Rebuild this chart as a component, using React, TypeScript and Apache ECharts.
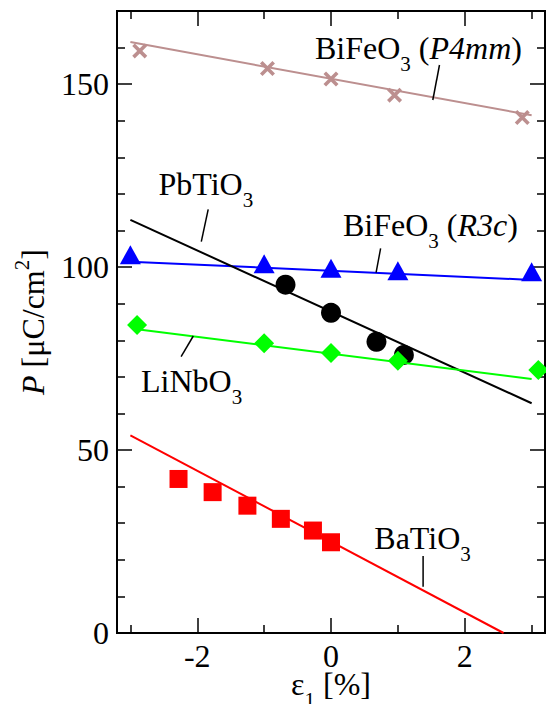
import React, { useEffect, useRef } from 'react';
import * as echarts from 'echarts';

const FONT = "'Liberation Serif', 'Times New Roman', Times, serif";

// axis ticks
const xRange = [-3.2, 3.2];
const yRange = [0, 170];
const xMajorTicks = [-2, 0, 2];
const xMinorTicks = [-3, -1, 1, 3];
const yMajorTicks = [0, 50, 100, 150];
const yMinorTicks = [10, 20, 30, 40, 60, 70, 80, 90, 110, 120, 130, 140, 160];

// BiFeO3 (P4mm)
const strainP4mm = [-2.86, -0.95, 0, 0.95, 2.86];
const polP4mm = [159.1, 154.3, 151.4, 147.0, 140.9];
const fitStrainP4mm = [-3, 3];
const fitPolP4mm = [161.5, 141.5];

// BiFeO3 (R3c)
const strainR3c = [-3, -1, 0, 1, 3];
const polR3c = [103.4, 100.9, 99.7, 99.0, 98.7];
const fitStrainR3c = [-3, 3];
const fitPolR3c = [101.5, 96.5];

// PbTiO3
const strainPTO = [-0.68, 0, 0.68, 1.09];
const polPTO = [95.2, 87.5, 79.6, 76.0];
const fitStrainPTO = [-3, 3];
const fitPolPTO = [112.9, 62.8];

// LiNbO3
const strainLNO = [-2.9, -1, 0, 1, 3.1];
const polLNO = [84.2, 79.2, 76.5, 74.4, 71.9];
const fitStrainLNO = [-2.9, 3.0];
const fitPolLNO = [83.0, 69.4];

// BaTiO3
const strainBTO = [-2.28, -1.77, -1.25, -0.75, -0.27, 0];
const polBTO = [42.1, 38.5, 34.8, 31.2, 28.0, 24.8];
const fitStrainBTO = [-3, 2.58];
const fitPolBTO = [54.0, 0];

const zip = (a: number[], b: number[]) => a.map((v, i) => [v, b[i]]);

const CROSS = 'path://M0,1.7L1.7,0L10,8.3L8.3,10ZM8.3,0L10,1.7L1.7,10L0,8.3Z';

const MAIN = 32;
const SMALL = 21;
const LH = 32;
const P_MAIN = 0;
const BASE_OFF = P_MAIN + MAIN / 2 + 0.3375 * MAIN; // baseline offset from top
const P_SUB = BASE_OFF + 12.4 - 0.3375 * SMALL - SMALL / 2;
const P_SUP = BASE_OFF - 15 - 0.3375 * SMALL - SMALL / 2;

const rich = {
  n: { fontSize: MAIN, fontFamily: FONT, lineHeight: LH, padding: [P_MAIN, 0, 0, 0], verticalAlign: 'top', fill: '#000' },
  i: { fontSize: MAIN, fontFamily: FONT, fontStyle: 'italic', lineHeight: LH, padding: [P_MAIN, 0, 0, 0], verticalAlign: 'top', fill: '#000' },
  sub: { fontSize: SMALL, fontFamily: FONT, lineHeight: LH, padding: [P_SUB, 0, 0, 0], verticalAlign: 'top', fill: '#000' },
  sup: { fontSize: SMALL, fontFamily: FONT, lineHeight: LH, padding: [P_SUP, 0, 0, 0], verticalAlign: 'top', fill: '#000' },
};

function richText(x: number, baseline: number, text: string, align = 'left', rotation = 0) {
  return {
    type: 'text',
    x,
    y: baseline,
    rotation,
    z: 100,
    style: {
      text,
      rich,
      x: 0,
      y: -BASE_OFF,
      align,
      textAlign: align,
      verticalAlign: 'top',
      textVerticalAlign: 'top',
      fill: '#000',
    },
  };
}

function leader(x1: number, y1: number, x2: number, y2: number) {
  return {
    type: 'line',
    z: 100,
    shape: { x1, y1, x2, y2 },
    style: { stroke: '#000', lineWidth: 1.5 },
  };
}

function xAxis(position: string, ticks: number[], len: number, labels: boolean) {
  return {
    type: 'value',
    position,
    min: xRange[0],
    max: xRange[1],
    axisLine: { show: false, onZero: false },
    splitLine: { show: false },
    axisTick: { show: true, inside: true, length: len, customValues: ticks, lineStyle: { color: '#000', width: 1.5 } },
    axisLabel: {
      show: labels,
      customValues: ticks,
      fontSize: MAIN,
      fontFamily: FONT,
      color: '#000',
      margin: 7,
    },
  };
}

function yAxis(position: string, ticks: number[], len: number, labels: boolean) {
  return {
    type: 'value',
    position,
    min: yRange[0],
    max: yRange[1],
    axisLine: { show: false, onZero: false },
    splitLine: { show: false },
    axisTick: { show: true, inside: true, length: len, customValues: ticks, lineStyle: { color: '#000', width: 1.5 } },
    axisLabel: {
      show: labels,
      customValues: ticks,
      fontSize: MAIN,
      fontFamily: FONT,
      color: '#000',
      margin: 8,
    },
  };
}

function fitLine(xs: number[], ys: number[], color: string) {
  return {
    type: 'line',
    data: zip(xs, ys),
    showSymbol: false,
    symbol: 'none',
    lineStyle: { color, width: 2 },
    silent: true,
  };
}

function points(xs: number[], ys: number[], color: string, symbol: string, size: any) {
  return {
    type: 'scatter',
    data: zip(xs, ys),
    symbol,
    symbolSize: size,
    clip: false,
    itemStyle: { color, opacity: 1 },
    silent: true,
  };
}

export default function App() {
  const ref = useRef<HTMLDivElement>(null);
  useEffect(() => {
    if (!ref.current) return;
    const chart = echarts.init(ref.current, undefined, { renderer: 'svg' });
    chart.setOption({
      animation: false,
      backgroundColor: '#fff',
      grid: { left: 117, right: 1, top: 11, bottom: 71, show: true, borderColor: '#000', borderWidth: 2, backgroundColor: 'transparent' },
      xAxis: [
        xAxis('bottom', xMajorTicks, 15, true),
        xAxis('bottom', xMinorTicks, 8, false),
        xAxis('top', xMajorTicks, 15, false),
        xAxis('top', xMinorTicks, 8, false),
      ],
      yAxis: [
        yAxis('left', yMajorTicks, 15, true),
        yAxis('left', yMinorTicks, 8, false),
        yAxis('right', yMajorTicks, 15, false),
        yAxis('right', yMinorTicks, 8, false),
      ],
      series: [
        fitLine(fitStrainP4mm, fitPolP4mm, '#bc8f8f'),
        points(strainP4mm, polP4mm, '#bc8f8f', CROSS, 15),
        fitLine(fitStrainR3c, fitPolR3c, '#0000ff'),
        points(strainR3c, polR3c, '#0000ff', 'triangle', [21, 19]),
        fitLine(fitStrainPTO, fitPolPTO, '#000000'),
        points(strainPTO, polPTO, '#000000', 'circle', 20),
        fitLine(fitStrainLNO, fitPolLNO, '#00ff00'),
        points(strainLNO, polLNO, '#00ff00', 'diamond', 20),
        fitLine(fitStrainBTO, fitPolBTO, '#ff0000'),
        points(strainBTO, polBTO, '#ff0000', 'rect', 18),
      ],
      graphic: [
        richText(315, 58.3, '{n|BiFeO}{sub|3}{n| }{n|(}{i|P4mm}{n|)}'),
        leader(439.5, 65, 432.8, 100),
        richText(158.5, 195, '{n|PbTiO}{sub|3}'),
        leader(208.2, 209.3, 201.3, 241.7),
        richText(343, 236, '{n|BiFeO}{sub|3}{n| }{n|(}{i|R3c}{n|)}'),
        leader(380.6, 248.3, 376.1, 272.7),
        richText(141, 391.7, '{n|LiNbO}{sub|3}'),
        leader(193.3, 336, 181.1, 356.7),
        richText(374.3, 548.3, '{n|BaTiO}{sub|3}'),
        leader(423.1, 556, 423.1, 586.7),
        richText(331, 695, '{n|ε}{sub|1}{n| }{n|[%]}', 'center'),
        richText(44, 322, '{i|P}{n| }{n|[μC/cm}{sup|2}{n|]}', 'center', Math.PI / 2),
      ],
    });
    return () => chart.dispose();
  }, []);
  return <div ref={ref} style={{ position: 'absolute', left: 0, top: 0, width: 546, height: 704 }} />;
}
